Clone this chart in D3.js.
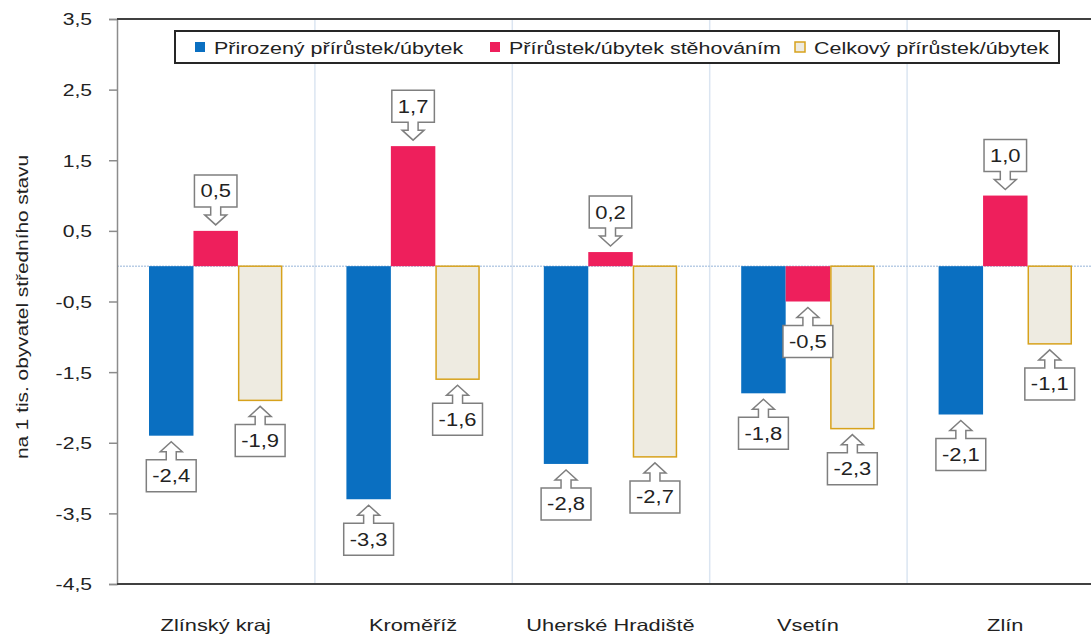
<!DOCTYPE html>
<html>
<head>
<meta charset="utf-8">
<script src="https://cdn.jsdelivr.net/npm/d3@7"></script>
<style>
  body { margin: 0; background: #fff; }
  svg { display: block; font-family: "Liberation Sans", Arial, sans-serif; }
</style>
</head>
<body>
<svg id="canvas" width="1091" height="635"></svg>
<script>
// data
let categories = ['Zlínský kraj', 'Kroměříž', 'Uherské Hradiště', 'Vsetín', 'Zlín'];
let seriesNames = ['Přirozený přírůstek/úbytek', 'Přírůstek/úbytek stěhováním', 'Celkový přírůstek/úbytek'];
let natural = [-2.4, -3.3, -2.8, -1.8, -2.1];
let migration = [0.5, 1.7, 0.2, -0.5, 1.0];
let total = [-1.9, -1.6, -2.7, -2.3, -1.1];
let yTicks = [3.5, 2.5, 1.5, 0.5, -0.5, -1.5, -2.5, -3.5, -4.5];
let yLabel = 'na 1 tis. obyvatel středního stavu';

let series = [natural, migration, total];
let fills = ['#0a6fc1', '#ee1f5c', '#eeebe1'];
let strokes = ['none', 'none', '#d7a21c'];

let svg = d3.select('#canvas');
let fmt = v => d3.format('.1f')(v).replace('.', ',').replace('−', '-');

// the original text is drawn wider than the font's normal width
let stretch = (sel, k) => {
    sel.each(function () {
        let len = this.getComputedTextLength();
        d3.select(this).attr('textLength', len * k).attr('lengthAdjust', 'spacingAndGlyphs');
    });
};

// scales
let x = d3.scaleBand().domain(categories).range([117, 1104]).padding(0);
let xs = d3.scaleBand().domain(d3.range(3)).range([0, x.bandwidth()]).paddingInner(0).paddingOuter(0.72);
let y = d3.scaleLinear().domain([-4.5, 3.5]).range([584, 19]);

// category separators
svg.append('g').selectAll('line')
    .data(categories.slice(1))
    .enter().append('line')
    .attr('x1', d => x(d) + 0.5).attr('x2', d => x(d) + 0.5)
    .attr('y1', y(3.5)).attr('y2', y(-4.5))
    .attr('stroke', '#dbe5f1').attr('stroke-width', 1.5);

// zero line
svg.append('line')
    .attr('x1', 117).attr('x2', 1091)
    .attr('y1', y(0)).attr('y2', y(0))
    .attr('stroke', '#b9cde5').attr('stroke-width', 1.5)
    .attr('stroke-dasharray', '2,1');

// bars
series.forEach((vals, si) => {
    svg.append('g').selectAll('rect')
        .data(vals)
        .enter().append('rect')
        .attr('x', (d, i) => x(categories[i]) + xs(si) + (si === 2 ? 0.75 : 0))
        .attr('width', xs.bandwidth() - (si === 2 ? 1.5 : 0))
        .attr('y', d => Math.min(y(d), y(0)))
        .attr('height', d => Math.abs(y(d) - y(0)))
        .attr('fill', fills[si])
        .attr('stroke', strokes[si])
        .attr('stroke-width', 1.5);
});

// axes frame
let yAxis = d3.axisLeft(y).tickValues(yTicks).tickSize(8).tickFormat(fmt);
let ga = svg.append('g').attr('transform', 'translate(117,0)').call(yAxis);
ga.select('.domain').attr('stroke', '#8c8c8c').attr('stroke-width', 1.5);
ga.selectAll('.tick line').attr('stroke', '#8c8c8c').attr('stroke-width', 1.5);
ga.selectAll('.tick text').attr('x', -25).attr('dy', '0.36em')
    .style('font-size', '16.5px').style('font-family', '"Liberation Sans", Arial, sans-serif').attr('fill', '#222')
    .call(stretch, 1.28);

svg.append('line').attr('x1', 117).attr('x2', 1091).attr('y1', y(3.5)).attr('y2', y(3.5))
    .attr('stroke', '#404040').attr('stroke-width', 2);
svg.append('line').attr('x1', 117).attr('x2', 1091).attr('y1', y(-4.5)).attr('y2', y(-4.5))
    .attr('stroke', '#404040').attr('stroke-width', 2);

// category labels
svg.append('g').selectAll('text')
    .data(categories)
    .enter().append('text')
    .attr('x', d => x(d) + x.bandwidth() / 2)
    .attr('y', 631)
    .attr('text-anchor', 'middle')
    .style('font-size', '16.5px').attr('fill', '#222')
    .text(d => d)
    .call(stretch, 1.32);

// y label
svg.append('text')
    .attr('transform', 'translate(28,' + 307 + ') rotate(-90)')
    .attr('text-anchor', 'middle')
    .style('font-size', '16px').attr('fill', '#222')
    .text(yLabel)
    .call(stretch, 1.3);

// callouts
let callout = (cx, barEnd, s, label) => {
    let g = svg.append('g');
    let t = g.append('text').style('font-size', '18px').attr('text-anchor', 'middle').attr('fill', '#222').text(label);
    t.call(stretch, 1.22);
    let w = +t.attr('textLength') + 12;
    let tip = barEnd + s * 6;
    let h1 = tip + s * 10, h2 = tip + s * 18, h3 = h2 + s * 32;
    let p = d3.path();
    p.moveTo(cx, tip);
    p.lineTo(cx + 11, h1); p.lineTo(cx + 5, h1); p.lineTo(cx + 5, h2);
    p.lineTo(cx + w / 2, h2); p.lineTo(cx + w / 2, h3);
    p.lineTo(cx - w / 2, h3); p.lineTo(cx - w / 2, h2);
    p.lineTo(cx - 5, h2); p.lineTo(cx - 5, h1); p.lineTo(cx - 11, h1);
    p.closePath();
    g.insert('path', 'text').attr('d', p.toString())
        .attr('fill', '#fff').attr('stroke', '#7f7f7f').attr('stroke-width', 1.5);
    t.attr('x', cx).attr('y', (h2 + h3) / 2 + 6.5);
};

series.forEach((vals, si) => {
    vals.forEach((v, i) => {
        let cx = x(categories[i]) + xs(si) + xs.bandwidth() / 2;
        let s = v < 0 ? 1 : -1;
        callout(cx, y(v), s, fmt(v));
    });
});

// legend
let lg = svg.append('g');
lg.append('rect').attr('x', 175).attr('y', 31).attr('width', 884).attr('height', 32)
    .attr('fill', '#fff').attr('stroke', '#262626').attr('stroke-width', 2);
let legX = [195, 490, 795];
seriesNames.forEach((n, i) => {
    lg.append('rect').attr('x', legX[i]).attr('y', 42).attr('width', 10).attr('height', 10)
        .attr('fill', fills[i]).attr('stroke', i === 2 ? strokes[i] : 'none').attr('stroke-width', 1.5);
    lg.append('text').attr('x', legX[i] + 19).attr('y', 54)
        .style('font-size', '16.5px').attr('fill', '#222').text(n)
        .call(stretch, 1.3);
});
</script>
</body>
</html>
